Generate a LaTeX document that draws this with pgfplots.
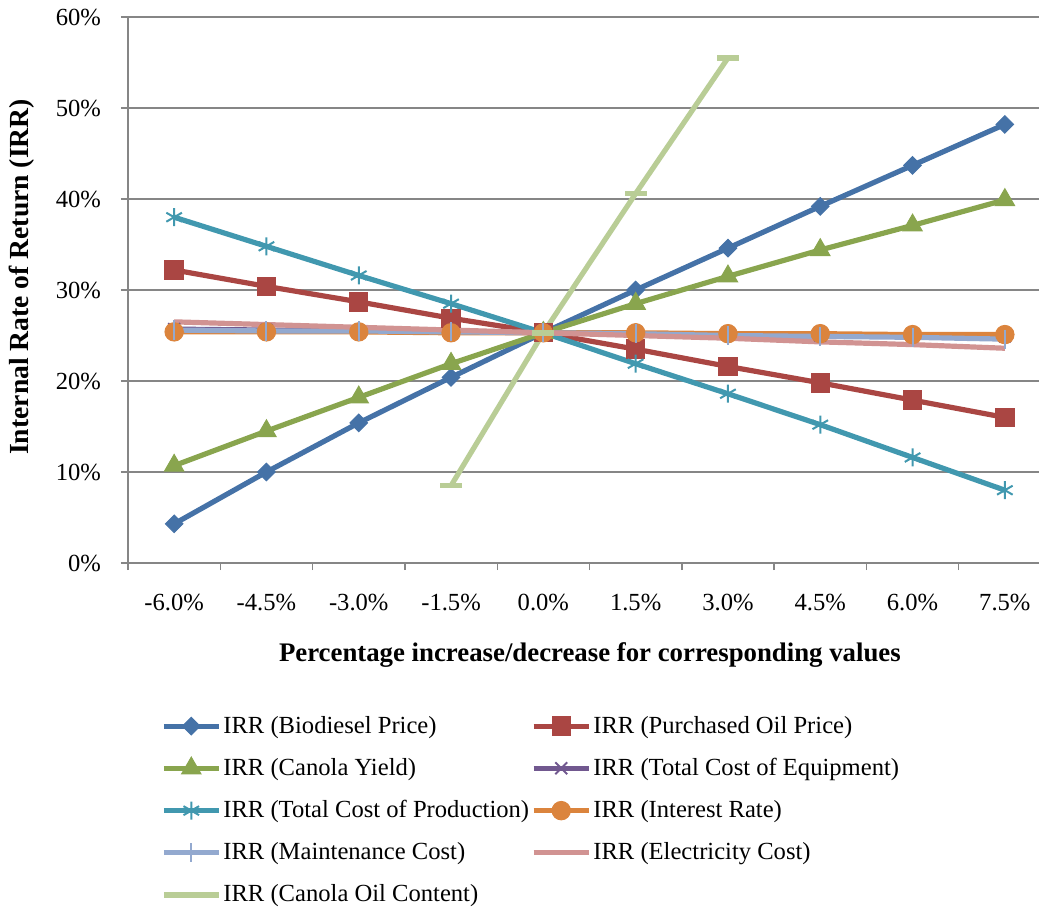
\documentclass[border=0pt]{standalone}
\usepackage{pgfplots}
\pgfplotsset{compat=1.18}
\usepackage{fontspec}
\setmainfont{Liberation Serif}
\definecolor{axgray}{RGB}{134,134,134}
\definecolor{cBio}{RGB}{69,114,167}
\definecolor{cOil}{RGB}{170,70,67}
\definecolor{cYield}{RGB}{137,165,78}
\definecolor{cEquip}{RGB}{113,88,143}
\definecolor{cProd}{RGB}{65,152,175}
\definecolor{cInt}{RGB}{219,132,61}
\definecolor{cMaint}{RGB}{147,169,207}
\definecolor{cElec}{RGB}{209,147,146}
\definecolor{cCont}{RGB}{185,205,150}
\begin{document}
\begin{tikzpicture}
\begin{axis}[
  scale only axis, width=455.5pt, height=273pt,
  at={(0pt,0pt)}, anchor=south west,
  font=\fontsize{12.3}{14.8}\selectfont,
  xmin=-0.5, xmax=9.37, ymin=0, ymax=60,
  axis x line*=bottom, axis y line*=left,
  axis line style={draw=axgray, line width=0.7pt, -},
  xtick={0,...,9},
  xticklabels={-6.0\%,-4.5\%,-3.0\%,-1.5\%,0.0\%,1.5\%,3.0\%,4.5\%,6.0\%,7.5\%},
  major x tick style={draw=none},
  minor xtick={-0.5,0.5,...,8.5},
  ytick={0,10,...,60},
  yticklabel={\pgfmathprintnumber{\tick}\%},
  /pgf/number format/assume math mode=true,
  tick align=outside,
  tick style={draw=axgray, line width=0.7pt},
  major tick length=3.5pt, minor tick length=3.5pt,
  ymajorgrids, grid style={draw=axgray, line width=0.7pt},
  yticklabel style={xshift=-6.5pt},
  xticklabel style={yshift=-8.6pt},
  xlabel={\bfseries Percentage increase/decrease for corresponding values},
  xlabel style={at={(axis description cs:0.507,0)}, anchor=center, yshift=-46pt, font=\fontsize{13.4}{16}\selectfont},
  ylabel={\bfseries Internal Rate of Return (IRR)},
  ylabel style={at={(axis description cs:-0.1164,0.524)}, anchor=center, font=\fontsize{13.8}{16}\selectfont},
  every axis plot/.append style={line width=2.6pt},
  legend image code/.code={\draw[mark repeat=2,mark phase=2,#1] plot coordinates {(0pt,0pt) (13.75pt,0pt) (27.5pt,0pt)};},
  legend cell align=left,
  legend columns=2,
  legend style={draw=none, fill=none, at={(axis description cs:0.036,-0.276)}, anchor=north west,
    inner sep=0pt, row sep=9pt, nodes={inner sep=1pt},
    /tikz/every even column/.append style={column sep=0pt}},
]
\addplot[cBio, mark=square*, mark size=3.1pt, mark options={rotate=45, solid, fill=cBio, line width=0.5pt}] coordinates {
 (0,4.3) (1,10.0) (2,15.4) (3,20.4) (4,25.3) (5,30.0) (6,34.6) (7,39.2) (8,43.7) (9,48.2)};
\addlegendentry{IRR (Biodiesel Price)}
\addplot[cOil, mark=square*, mark size=4.6pt, mark options={solid, fill=cOil, line width=0.5pt}] coordinates {
 (0,32.2) (1,30.4) (2,28.7) (3,26.9) (4,25.3) (5,23.5) (6,21.6) (7,19.8) (8,17.9) (9,16.0)};
\addlegendentry{IRR (Purchased Oil Price)}
\addplot[cYield, mark=triangle*, mark size=5.6pt, mark options={solid, fill=cYield, line width=0.5pt}] coordinates {
 (0,10.7) (1,14.5) (2,18.2) (3,21.9) (4,25.3) (5,28.5) (6,31.5) (7,34.4) (8,37.1) (9,39.9)};
\addlegendentry{IRR (Canola Yield)}
\addplot[cEquip, mark=x, mark size=4.2pt, mark options={solid, line width=1pt}] coordinates {
 (0,25.7) (1,25.6) (2,25.5) (3,25.4) (4,25.3) (5,25.2) (6,25.1) (7,25.0) (8,25.0) (9,24.9)};
\addlegendentry{IRR (Total Cost of Equipment)}
\addplot[cProd, mark=asterisk, mark size=4.5pt, mark options={solid, line width=1pt}] coordinates {
 (0,38.0) (1,34.8) (2,31.6) (3,28.5) (4,25.3) (5,21.9) (6,18.6) (7,15.2) (8,11.6) (9,8.0)};
\addlegendentry{IRR (Total Cost of Production)}
\addplot[cInt, mark=*, mark size=4.6pt, mark options={solid, fill=cInt, line width=0.5pt}] coordinates {
 (0,25.4) (1,25.4) (2,25.4) (3,25.3) (4,25.3) (5,25.3) (6,25.2) (7,25.2) (8,25.1) (9,25.1)};
\addlegendentry{IRR (Interest Rate)}
\addplot[cMaint, mark=|, mark size=4.8pt, mark options={solid, line width=1pt}] coordinates {
 (0,25.6) (1,25.5) (2,25.5) (3,25.4) (4,25.3) (5,25.2) (6,25.0) (7,24.9) (8,24.8) (9,24.6)};
\addlegendentry{IRR (Maintenance Cost)}
\addplot[cElec, mark=none] coordinates {
 (0,26.5) (1,26.2) (2,25.9) (3,25.6) (4,25.3) (5,25.0) (6,24.7) (7,24.3) (8,24.0) (9,23.6)};
\addlegendentry{IRR (Electricity Cost)}
\addplot[cCont, mark=-, mark size=5.5pt, mark options={solid, line width=2.8pt}] coordinates {
 (3,8.5) (4,25.3) (5,40.6) (6,55.5)};
\addlegendentry{IRR (Canola Oil Content)}
\end{axis}
\pgfresetboundingbox
\useasboundingbox (-64pt,-173.5pt) rectangle (455.5pt,281.5pt);
\end{tikzpicture}
\end{document}
